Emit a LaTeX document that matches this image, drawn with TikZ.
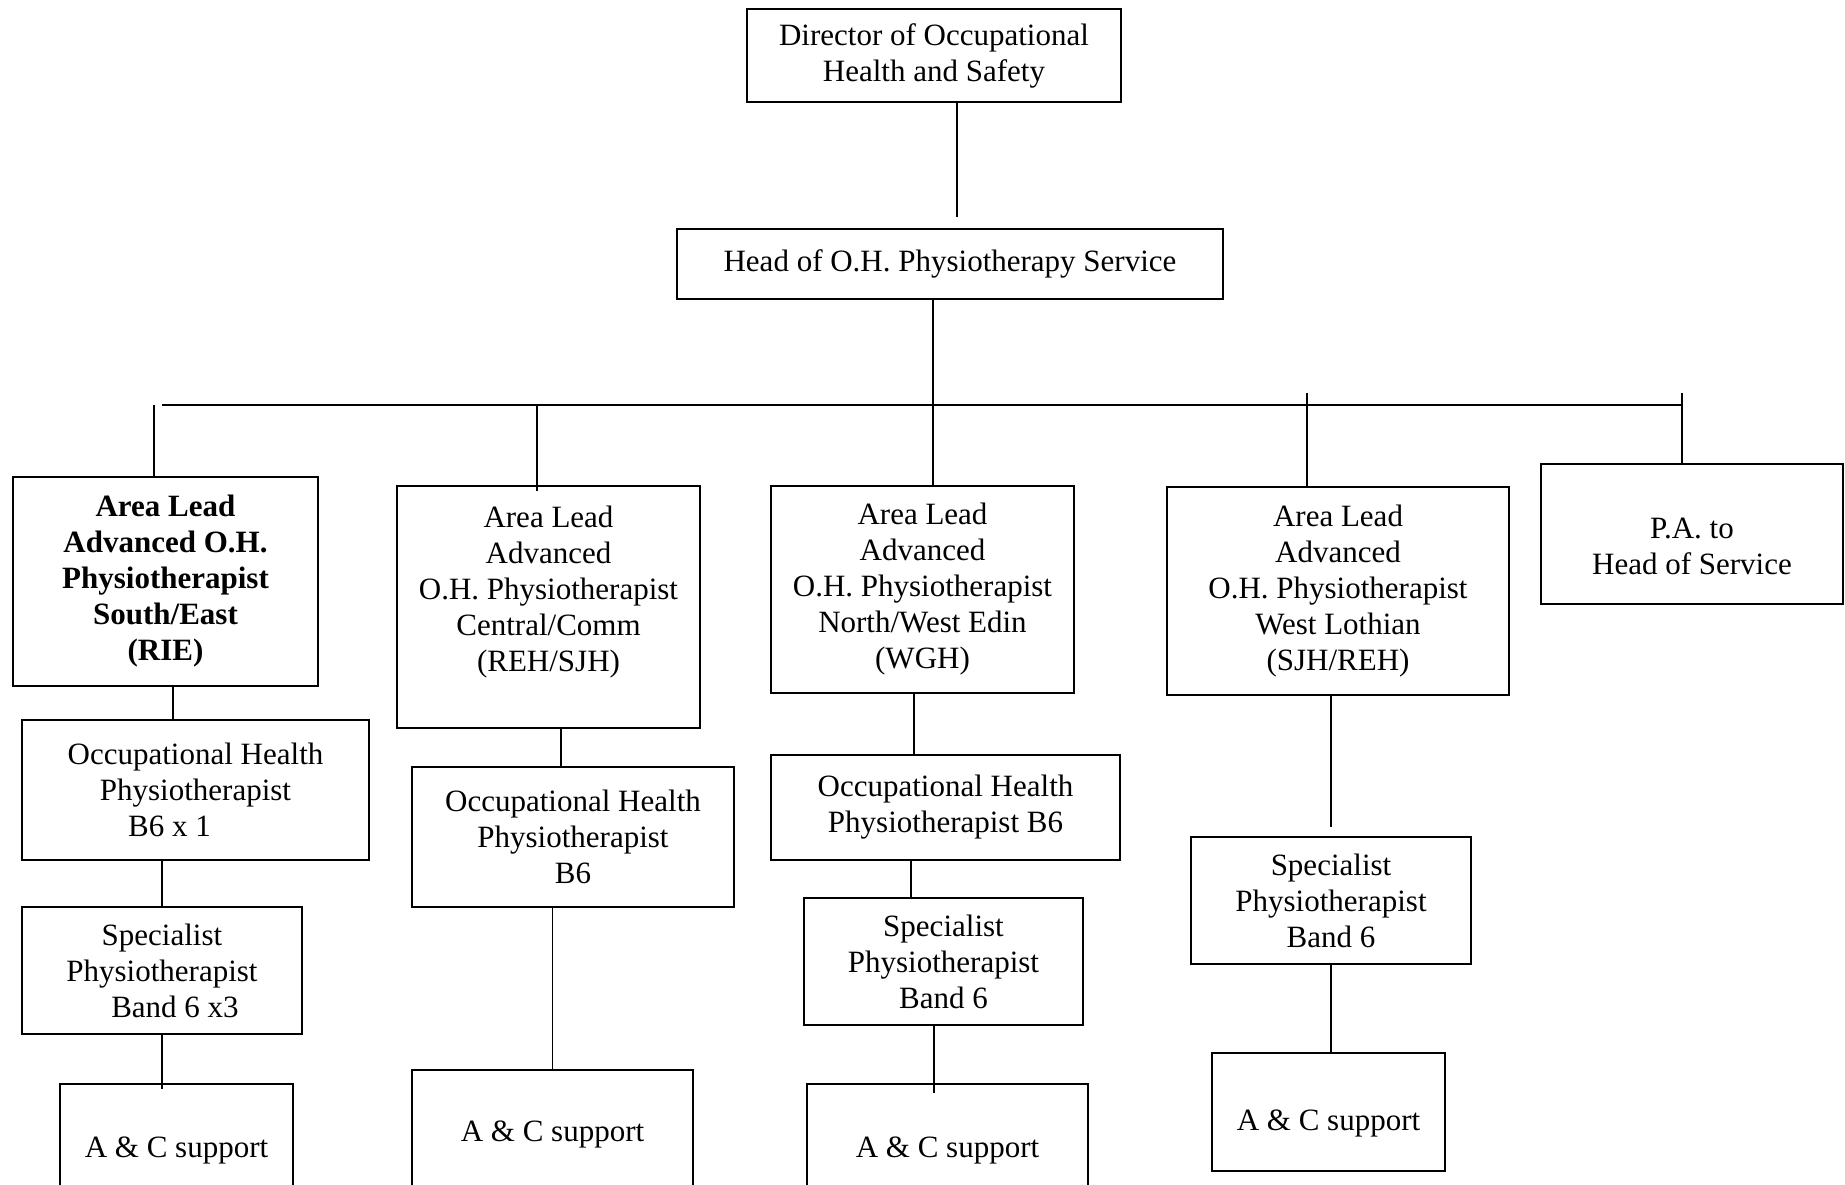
\documentclass[tikz,border=0pt]{standalone}
\usepackage{fontspec}
\setmainfont{Liberation Serif}
\tikzset{
  orgbox/.style={draw, line width=0.8pt, inner sep=0pt, align=center,
    font=\fontsize{15.5}{18}\selectfont},
  link/.style={line width=0.8pt}
}
\begin{document}
\begin{tikzpicture}[x=0.5pt,y=-0.5pt]
    \useasboundingbox (0,0) rectangle (1845,1184);

    % Top of the chart
    \node[orgbox,minimum width=187pt,minimum height=46.5pt] (dir) at (934,55.5) {Director of Occupational\\Health and Safety};
    \node[orgbox,minimum width=273pt,minimum height=35pt] (head) at (950,264) {Head of O.H. Physiotherapy Service};

    % Area leads and P.A.
    \node[orgbox,minimum width=152.5pt,minimum height=104.5pt,font=\fontsize{15.5}{18}\selectfont\bfseries] (lead1) at (165.5,581.5) {Area Lead\\Advanced O.H.\\Physiotherapist\\South/East\\(RIE)};
    \node[orgbox,minimum width=151.5pt,minimum height=121pt] (lead2) at (548.5,607) {Area Lead\\Advanced\\O.H. Physiotherapist\\Central/Comm\\(REH/SJH)\\~};
    \node[orgbox,minimum width=151.5pt,minimum height=103.5pt] (lead3) at (922.5,589.5) {Area Lead\\Advanced\\O.H. Physiotherapist\\North/West Edin\\(WGH)};
    \node[orgbox,minimum width=171pt,minimum height=104pt] (lead4) at (1338,591) {Area Lead\\Advanced\\O.H. Physiotherapist\\West Lothian\\(SJH/REH)};
    \node[orgbox,minimum width=151pt,minimum height=70pt] (pa) at (1692,534) {~\\[5pt]P.A. to\\Head of Service};

    % Second row
    \node[orgbox,minimum width=173.5pt,minimum height=70pt] (oh1) at (195.5,790) {Occupational Health\\Physiotherapist\\B6 x 1\hspace*{26pt}};
    \node[orgbox,minimum width=161pt,minimum height=70pt] (oh2) at (573,837) {Occupational Health\\Physiotherapist\\B6};
    \node[orgbox,minimum width=174.5pt,minimum height=52.5pt] (oh3) at (945.5,807.5) {Occupational Health\\Physiotherapist B6};
    \node[orgbox,minimum width=140pt,minimum height=63.5pt] (sp4) at (1331,900.5) {Specialist\\Physiotherapist\\Band 6};

    % Third row
    \node[orgbox,minimum width=140pt,minimum height=63.5pt] (sp1) at (162,970.5) {Specialist\\Physiotherapist\\\hspace*{13pt}Band 6 x3};
    \node[orgbox,minimum width=139.5pt,minimum height=63.5pt] (sp3) at (943.5,961.5) {Specialist\\Physiotherapist\\Band 6};
    \node[orgbox,minimum width=140.5pt,minimum height=64pt] (ac2) at (552.5,1134) {A \& C support};
    \node[orgbox,minimum width=116.5pt,minimum height=59pt,text height=21.5pt,text depth=3pt] (ac4) at (1328.5,1112) {A \& C support};

    % Bottom row
    \node[orgbox,minimum width=116.5pt,minimum height=66pt] (ac1) at (176.5,1150) {A \& C support};
    \node[orgbox,minimum width=140.5pt,minimum height=66pt] (ac3) at (947.5,1150) {A \& C support};

    % Director to head
    \coordinate (d1) at ([xshift=11.5pt]dir.south);
    \draw[link,shorten >=5.5pt] (d1) -- (d1 |- head.north);

    % Head down through the bus
    \coordinate (h1) at ([xshift=-8.5pt]head.south);
    \draw[link] (h1) -- (h1 |- lead3.north);

    % Bus and drops
    \coordinate (busL) at (162,405);
    \coordinate (busR) at (1683,405);
    \draw[link] (busL) -- (busR);
    \coordinate (t1) at (154,405);
    \coordinate (t2) at (537,405);
    \coordinate (t4) at (1307,393);
    \coordinate (t5) at (1682,393);
    \draw[link] (t1) -- (t1 |- lead1.north);
    \draw[link,shorten >=-3pt] (t2) -- (t2 |- lead2.north);
    \draw[link] (t4) -- (t4 |- lead4.north);
    \draw[link] (t5) -- (t5 |- pa.north);

    % Down the columns
    \coordinate (c1) at ([xshift=3.75pt]lead1.south);
    \draw[link] (c1) -- (c1 |- oh1.north);
    \draw[link] (sp1.north |- oh1.south) -- (sp1.north);
    \draw[link,shorten >=-3pt] (sp1.south) -- (sp1.south |- ac1.north);
    \coordinate (c2) at ([xshift=6.25pt]lead2.south);
    \draw[link] (c2) -- (c2 |- oh2.north);
    \draw[link] (ac2.north |- oh2.south) -- (ac2.north);
    \coordinate (c3) at ([xshift=-4.25pt]lead3.south);
    \draw[link] (c3) -- (c3 |- oh3.north);
    \coordinate (c4) at ([xshift=-17.25pt]oh3.south);
    \draw[link] (c4) -- (c4 |- sp3.north);
    \coordinate (c5) at ([xshift=-4.75pt]sp3.south);
    \draw[link,shorten >=-5pt] (c5) -- (c5 |- ac3.north);
    \draw[link,shorten >=4.5pt] (sp4.north |- lead4.south) -- (sp4.north);
    \draw[link] (sp4.south) -- (sp4.south |- ac4.north);
\end{tikzpicture}
\end{document}
